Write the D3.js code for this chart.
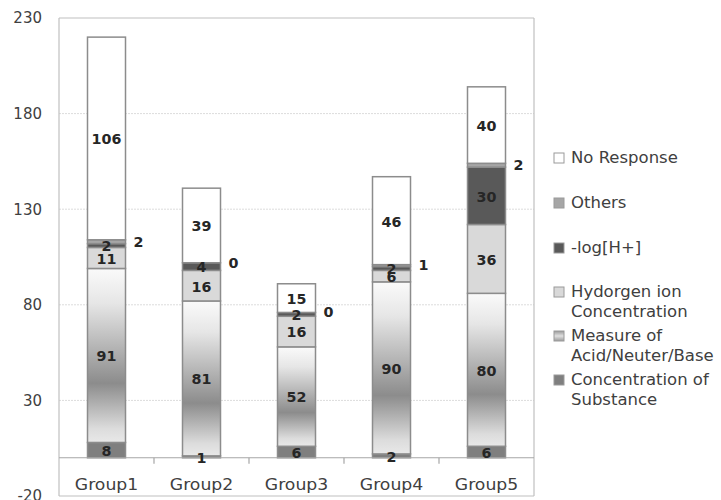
<!DOCTYPE html>
<html>
<head>
<meta charset="utf-8">
<script src="https://cdn.jsdelivr.net/npm/d3@7"></script>
<style>
  html, body { margin: 0; padding: 0; background: #fff; }
  svg { display: block; }
</style>
</head>
<body>
<svg id="chart" width="721" height="500"></svg>
<script>
// Categories and stacked series (bottom to top)
const groups = ["Group1", "Group2", "Group3", "Group4", "Group5"];
const concentrationOfSubstance = [8, 1, 6, 2, 6];
const measureOfAcidNeuterBase = [91, 81, 52, 90, 80];
const hydrogenIonConcentration = [11, 16, 16, 6, 36];
const negLogH = [2, 4, 2, 2, 30];
const others = [2, 0, 0, 1, 2];
const noResponse = [106, 39, 15, 46, 40];
const yTicks = [-20, 30, 80, 130, 180, 230];

const series = [
  { key: "conc", name: ["Concentration of", "Substance"], values: concentrationOfSubstance, fill: "#7f7f7f" },
  { key: "measure", name: ["Measure of", "Acid/Neuter/Base"], values: measureOfAcidNeuterBase, fill: "url(#measureGrad)", legendFill: "url(#measureLegend)" },
  { key: "hion", name: ["Hydorgen ion", "Concentration"], values: hydrogenIonConcentration, fill: "#d9d9d9" },
  { key: "neglog", name: ["-log[H+]"], values: negLogH, fill: "#595959" },
  { key: "others", name: ["Others"], values: others, fill: "#a6a6a6", outside: true },
  { key: "noresp", name: ["No Response"], values: noResponse, fill: "#ffffff" }
];

const rows = groups.map((g, i) => {
  const r = { group: g };
  series.forEach(s => { r[s.key] = s.values[i]; });
  return r;
});
const stacked = d3.stack().keys(series.map(s => s.key))(rows);

const svg = d3.select("#chart");
const defs = svg.append("defs");

const grad = defs.append("linearGradient").attr("id", "measureGrad")
  .attr("x1", 0).attr("y1", 0).attr("x2", 0).attr("y2", 1);
grad.append("stop").attr("offset", "0").attr("stop-color", "#fafafa");
grad.append("stop").attr("offset", "0.2").attr("stop-color", "#e6e6e6");
grad.append("stop").attr("offset", "0.66").attr("stop-color", "#8c8c8c");
grad.append("stop").attr("offset", "0.92").attr("stop-color", "#dcdcdc");
grad.append("stop").attr("offset", "1").attr("stop-color", "#e8e8e8");

const lgrad = defs.append("linearGradient").attr("id", "measureLegend")
  .attr("x1", 0).attr("y1", 0).attr("x2", 0).attr("y2", 1);
lgrad.append("stop").attr("offset", "0").attr("stop-color", "#9a9a9a");
lgrad.append("stop").attr("offset", "0.5").attr("stop-color", "#e0e0e0");
lgrad.append("stop").attr("offset", "1").attr("stop-color", "#9a9a9a");

const plotLeft = 59, plotRight = 534, plotTop = 18, plotBottom = 496;

const x = d3.scaleBand().domain(groups).range([plotLeft, plotRight])
  .paddingInner(0.6).paddingOuter(0.3);
const y = d3.scaleLinear().domain([-20, 230]).range([plotBottom, plotTop]);

// Horizontal gridlines
svg.append("g").selectAll("line")
  .data(yTicks.filter(t => t !== -20 && t !== 230))
  .join("line")
  .attr("x1", plotLeft).attr("x2", plotRight)
  .attr("y1", d => y(d)).attr("y2", d => y(d))
  .attr("stroke", "#dcdcdc").attr("stroke-width", 1)
  .attr("stroke-dasharray", "2,1");

// Plot frame
const frame = svg.append("g").attr("stroke", "#c0c0c0").attr("stroke-width", 1.2).attr("fill", "none");
frame.append("line").attr("x1", plotLeft).attr("x2", plotRight).attr("y1", y(230)).attr("y2", y(230));
frame.append("line").attr("x1", plotLeft).attr("x2", plotLeft).attr("y1", y(230)).attr("y2", plotBottom);
frame.append("line").attr("x1", plotRight).attr("x2", plotRight).attr("y1", y(230)).attr("y2", plotBottom);
frame.append("line").attr("x1", plotLeft).attr("x2", plotRight).attr("y1", plotBottom).attr("y2", plotBottom);

// Y tick labels
svg.append("g").selectAll("text")
  .data(yTicks).join("text")
  .attr("x", 42).attr("y", d => y(d))
  .attr("dy", "0.36em")
  .attr("text-anchor", "end")
  .attr("font-family", "DejaVu Sans, sans-serif")
  .attr("font-size", 15)
  .attr("fill", "#404040")
  .text(d => d);

// Bars
const bars = svg.append("g");
stacked.forEach((layer, li) => {
  const s = series[li];
  bars.append("g").selectAll("rect")
    .data(layer).join("rect")
    .attr("x", d => x(d.data.group))
    .attr("width", x.bandwidth())
    .attr("y", d => y(d[1]))
    .attr("height", d => Math.max(0, y(d[0]) - y(d[1])))
    .attr("fill", s.fill)
    .attr("stroke", "#8c8c8c")
    .attr("stroke-width", 1.5);
});

// Zero baseline with category separators
const axisG = svg.append("g")
  .attr("transform", `translate(0,${y(0)})`);
axisG.append("line").attr("x1", plotLeft).attr("x2", plotRight)
  .attr("stroke", "#a6a6a6").attr("stroke-width", 1.2);
const step = x.step();
d3.range(1, groups.length).forEach(i => {
  const bx = plotLeft + step * i;
  axisG.append("line").attr("x1", bx).attr("x2", bx).attr("y1", 0).attr("y2", 6)
    .attr("stroke", "#a6a6a6").attr("stroke-width", 1.2);
});

// Horizontally stretched text helper
function stretchedText(parent, tx, ty, str, opts) {
  const g = parent.append("g").attr("transform", `translate(${tx},${ty}) scale(${opts.sx || 1},1)`);
  return g.append("text")
    .attr("text-anchor", opts.anchor || "middle")
    .attr("dy", "0.36em")
    .attr("font-family", "DejaVu Sans, sans-serif")
    .attr("font-size", opts.size)
    .attr("font-weight", opts.weight || "normal")
    .attr("fill", opts.fill || "#262626")
    .text(str);
}

// Category labels
const catG = svg.append("g");
groups.forEach(g => {
  stretchedText(catG, x(g) + x.bandwidth() / 2, 485, g, { size: 15, sx: 1.15, fill: "#404040" });
});

// Value labels
const labG = svg.append("g");
stacked.forEach((layer, li) => {
  const s = series[li];
  layer.forEach(d => {
    const v = d[1] - d[0];
    const cy = y((d[0] + d[1]) / 2);
    if (s.outside) {
      stretchedText(labG, x(d.data.group) + x.bandwidth() + 8, cy, v, { size: 13.5, sx: 1.06, weight: "bold", anchor: "start" });
    } else {
      stretchedText(labG, x(d.data.group) + x.bandwidth() / 2, cy + 1, v, { size: 13.5, sx: 1.06, weight: "bold" });
    }
  });
});

// Legend (top entry = top of stack)
const legendY = [158, 203, 248, 292, 336, 380];
const legend = svg.append("g");
series.slice().reverse().forEach((s, i) => {
  const ly = legendY[i];
  legend.append("rect")
    .attr("x", 554).attr("y", ly - 5).attr("width", 10).attr("height", 10)
    .attr("fill", s.legendFill || s.fill)
    .attr("stroke", "#9a9a9a").attr("stroke-width", 1);
  s.name.forEach((line, j) => {
    stretchedText(legend, 571, ly + j * 20, line, { size: 15, sx: 1.1, anchor: "start", fill: "#404040" });
  });
});
</script>
</body>
</html>
